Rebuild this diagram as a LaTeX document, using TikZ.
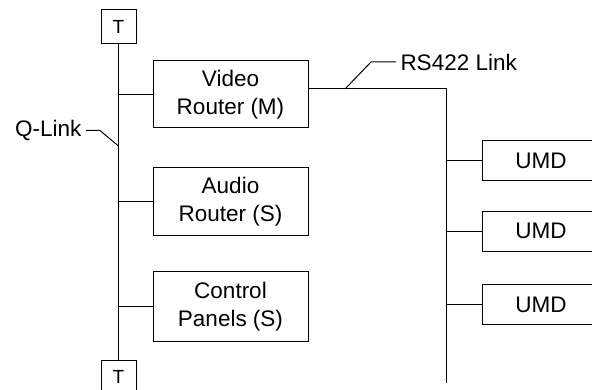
\documentclass[tikz,border=0pt]{standalone}
\usepackage{fontspec}
\setmainfont{Liberation Sans}
\begin{document}
\begin{tikzpicture}[x=1pt,y=-1pt,line width=1pt,
  box/.style={draw,minimum width=155pt,minimum height=67pt,inner sep=0pt,align=center,font=\fontsize{22.5}{28}\selectfont},
  term/.style={draw,minimum width=35pt,minimum height=34pt,inner sep=0pt,font=\fontsize{19}{19}\selectfont},
  umd/.style={draw,minimum width=118pt,minimum height=40pt,inner sep=0pt,font=\fontsize{22.5}{28}\selectfont},
  lbl/.style={inner sep=0pt,font=\fontsize{22.5}{28}\selectfont}]
\useasboundingbox (0,0) rectangle (592,390);
\clip (0,0) rectangle (592,390);
\fill[white] (0,0) rectangle (592,390);
% Q-Link bus
\node[term] (t1) at (118.5,27) {T};
\node[term] (t2) at (118.5,377) {T};
\draw (t1.south) -- (t2.north);
% devices on the Q-Link
\node[box] (vr) at (230.5,94.5) {Video\\Router (M)};
\node[box,minimum height=68pt] (ar) at (230.5,202) {Audio\\Router (S)};
\node[box,minimum height=69pt] (cp) at (230.5,306.5) {Control\\Panels (S)};
\draw (vr.west) -- (vr.west -| t1.south);
\draw (ar.west) -- (ar.west -| t1.south);
\draw (cp.west) -- (cp.west -| t1.south);
% RS422 link
\coordinate (rsend) at (446.5,383);
\draw ([yshift=5.5pt]vr.east) -| (rsend);
\node[umd] (u1) at (541,161) {UMD};
\node[umd] (u2) at (541,231.3) {UMD};
\node[umd] (u3) at (541,304.7) {UMD};
\draw (u1.west) -- (u1.west -| rsend);
\draw (u2.west) -- (u2.west -| rsend);
\draw (u3.west) -- (u3.west -| rsend);
% labels
\node[lbl,anchor=west] (rsl) at (400,62) {RS422 Link};
\coordinate (rsk) at (345,89);
\draw ([xshift=-4pt]rsl.west) -- ++(-25,0) -- (rsk);
\node[lbl,anchor=east] (ql) at (82,130.5) {Q-Link};
\coordinate (qk) at (118.5,146);
\draw ([xshift=4pt]ql.east) -- ++(14,0) -- (qk);
\end{tikzpicture}
\end{document}
